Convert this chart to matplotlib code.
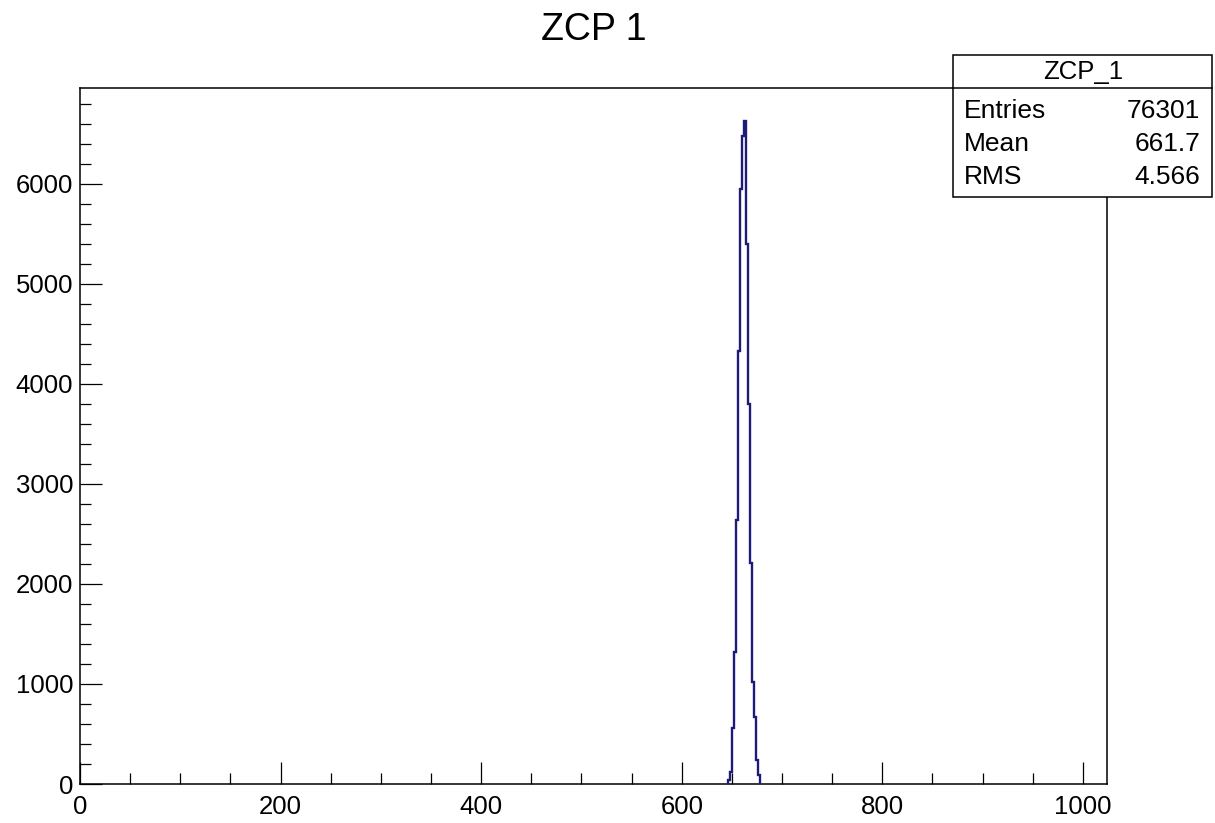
import matplotlib
matplotlib.use("Agg")
import matplotlib.pyplot as plt
from matplotlib.patches import Rectangle
from matplotlib.lines import Line2D
from matplotlib.ticker import MultipleLocator
import numpy as np

plt.rcParams['font.family'] = ['Liberation Sans', 'DejaVu Sans']

# Histogram data
bin_edges = [646, 648, 650, 652, 654, 656, 658, 660, 662, 664, 666, 668, 670, 672, 674, 676, 678]
counts = [40, 120, 559, 1317, 2635, 4331, 5948, 6477, 6627, 5399, 3802, 2206, 1018, 669, 240, 90]

title = "ZCP 1"
hist_name = "ZCP_1"
stat_labels = ["Entries", "Mean", "RMS"]
stat_values = ["76301", "661.7", "4.566"]
x_range = (0, 1024)
x_ticks = [0, 200, 400, 600, 800, 1000]
y_ticks = [0, 1000, 2000, 3000, 4000, 5000, 6000]

W, H = 1215, 823
fig = plt.figure(figsize=(W / 100, H / 100), dpi=100)
ax = fig.add_axes([80 / W, 1 - 784 / H, (1107 - 80) / W, (784 - 88) / H])

ax.stairs(counts, bin_edges, color='#1c1c78', linewidth=1.7, baseline=0, zorder=3)

ax.set_xlim(*x_range)
ax.set_ylim(0, max(counts) * 1.05)
ax.set_xticks(x_ticks)
ax.set_yticks(y_ticks)
ax.xaxis.set_minor_locator(MultipleLocator(50))
ax.yaxis.set_minor_locator(MultipleLocator(200))
ax.tick_params(which='major', direction='in', length=16, width=0.9, labelsize=18.5,
               top=False, right=False, pad=5)
ax.tick_params(which='minor', direction='in', length=8, width=0.9, top=False, right=False)
ax.tick_params(axis='x', which='major', pad=8)
for sp in ax.spines.values():
    sp.set_linewidth(1.1)

fig.text(594 / W, 1 - 30 / H, title, ha='center', va='center', fontsize=27)

# Stats box
bx0, bx1 = 953 / W, 1212 / W
by0, by1 = 1 - 197 / H, 1 - 55 / H
rect = Rectangle((bx0, by0), bx1 - bx0, by1 - by0, transform=fig.transFigure,
                 facecolor='white', edgecolor='black', linewidth=1.1, zorder=10)
fig.add_artist(rect)
sep_y = 1 - 88 / H
fig.add_artist(Line2D([bx0, bx1], [sep_y, sep_y], transform=fig.transFigure,
                      color='black', linewidth=1.1, zorder=11))
fig.text(1083 / W, 1 - 72 / H, hist_name, ha='center', va='center', fontsize=18.5, zorder=12)
row_y = [111, 144, 177]
for lab, val, yy in zip(stat_labels, stat_values, row_y):
    fig.text(964 / W, 1 - yy / H, lab, ha='left', va='center', fontsize=19, zorder=12)
    fig.text(1200 / W, 1 - yy / H, val, ha='right', va='center', fontsize=19, zorder=12)

fig.savefig("out.png", dpi=100)
